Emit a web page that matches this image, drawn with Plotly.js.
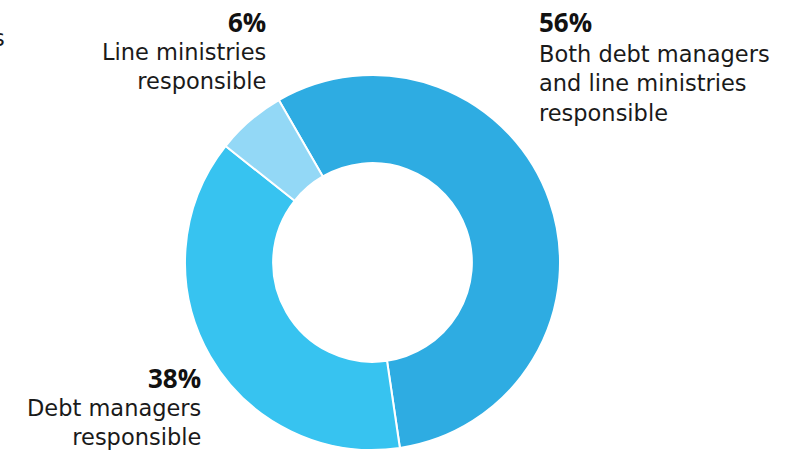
<!DOCTYPE html>
<html>
<head>
<meta charset="utf-8">
<script src="https://cdn.plot.ly/plotly-3.0.1.min.js"></script>
<style>html,body{margin:0;padding:0;background:#fff;}#chart{width:806px;height:453px;}</style>
</head>
<body>
<div id="chart"></div>
<script>
const categories = ["Both debt managers and line ministries responsible", "Debt managers responsible", "Line ministries responsible"];
const shares = [56, 38, 6];
const sliceColors = ["#2EACE2", "#37C3F0", "#93D8F6"];
const pctLabels = ["56%", "38%", "6%"];
const labelLines = [
  ["Both debt managers", "and line ministries", "responsible"],
  ["Debt managers", "responsible"],
  ["Line ministries", "responsible"]
];

const W = 806, H = 453;
const FONT = "'DejaVu Sans', 'Open Sans', sans-serif";
const BOLD_FONT = "'Open Sans', 'DejaVu Sans', sans-serif";
const px = x => x / W;
const py = y => 1 - y / H;

const trace = {
  type: "pie",
  labels: categories,
  values: shares,
  marker: {colors: sliceColors, line: {color: "#ffffff", width: 2}},
  hole: 0.53,
  sort: false,
  direction: "clockwise",
  rotation: -30,
  textinfo: "none",
  hoverinfo: "label+percent",
  showlegend: false,
  domain: {x: [185 / W, 560 / W], y: [3 / H, 378 / H]}
};

// label block placement: anchor x, side, percentage centre y, description block centre y
const blocks = [
  {x: 537, side: "left", pctY: 22, descY: 83},
  {x: 203, side: "right", pctY: 378, descY: 422},
  {x: 268, side: "right", pctY: 22, descY: 67}
];

const annotations = [];
blocks.forEach((b, i) => {
  annotations.push({
    xref: "paper", yref: "paper", x: px(b.x), y: py(b.pctY),
    xanchor: b.side, yanchor: "middle", showarrow: false,
    text: "<b>" + pctLabels[i] + "</b>",
    font: {family: BOLD_FONT, size: 26, weight: 800, color: "#111111"}
  });
  annotations.push({
    xref: "paper", yref: "paper", x: px(b.x), y: py(b.descY),
    xanchor: b.side, yanchor: "middle", align: b.side, showarrow: false,
    text: labelLines[i].join("<br>"),
    font: {family: FONT, size: 22.5, weight: 400, color: "#1a1a1a"}
  });
});
// clipped fragment of a neighbouring label at the left edge
annotations.push({
  xref: "paper", yref: "paper", x: px(7), y: py(38),
  xanchor: "right", yanchor: "middle", showarrow: false,
  text: "s", font: {family: FONT, size: 22.5, weight: 400, color: "#1a1a1a"}
});

const layout = {
  width: W, height: H,
  margin: {l: 0, r: 0, t: 0, b: 0},
  paper_bgcolor: "#ffffff",
  plot_bgcolor: "#ffffff",
  showlegend: false,
  annotations: annotations
};

Plotly.newPlot("chart", [trace], layout, {displayModeBar: false, staticPlot: true});
</script>
</body>
</html>
